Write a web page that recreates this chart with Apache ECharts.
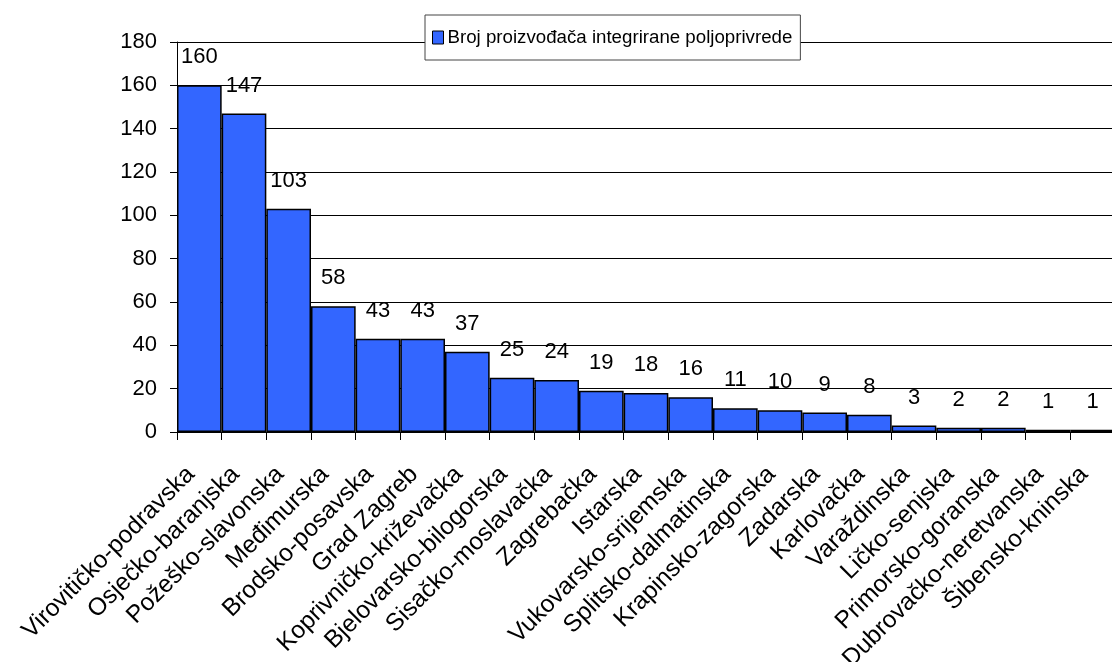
<!DOCTYPE html>
<html lang="hr">
<head>
  <meta charset="UTF-8">
  <title>Broj proizvođača integrirane poljoprivrede</title>
  <script src="https://cdn.jsdelivr.net/npm/echarts@6/dist/echarts.min.js"></script>
  <style>
    html, body { margin: 0; padding: 0; background: #fff; }
    #main { width: 1112px; height: 662px; }
  </style>
</head>
<body>
<div id="main"></div>
<script>
  // podaci
  var zupanije = [
    'Virovitičko-podravska', 'Osječko-baranjska', 'Požeško-slavonska', 'Međimurska',
    'Brodsko-posavska', 'Grad Zagreb', 'Koprivničko-križevačka', 'Bjelovarsko-bilogorska',
    'Sisačko-moslavačka', 'Zagrebačka', 'Istarska', 'Vukovarsko-srijemska',
    'Splitsko-dalmatinska', 'Krapinsko-zagorska', 'Zadarska', 'Karlovačka',
    'Varaždinska', 'Ličko-senjska', 'Primorsko-goranska', 'Dubrovačko-neretvanska',
    'Šibensko-kninska'
  ];
  var brojProizvodaca = [160, 147, 103, 58, 43, 43, 37, 25, 24, 19, 18, 16, 11, 10, 9, 8, 3, 2, 2, 1, 1];
  var nazivSerije = 'Broj proizvođača integrirane poljoprivrede';

  var myChart = echarts.init(document.getElementById('main'));
  var font = 'Liberation Sans, Arial, sans-serif';

  var option = {
    animation: false,
    textStyle: { fontFamily: font, color: '#000' },
    legend: {
      left: 425,
      top: 15,
      padding: [13, 8, 13, 7],
      backgroundColor: '#fff',
      borderColor: '#444',
      borderWidth: 1,
      icon: 'rect',
      itemWidth: 11,
      itemHeight: 13,
      itemGap: 5,
      itemStyle: { borderColor: '#000', borderWidth: 1 },
      textStyle: { fontSize: 18.7, color: '#000', fontFamily: font, padding: [0, 0, 0, -1] },
      data: [nazivSerije]
    },
    grid: {
      left: 177,
      right: -3,
      top: 42,
      bottom: 230,
      containLabel: false,
      outerBoundsMode: 'none'
    },
    xAxis: {
      type: 'category',
      data: zupanije,
      axisLine: { lineStyle: { color: '#000', width: 1 } },
      axisTick: { show: true, length: 8, lineStyle: { color: '#000' } },
      axisLabel: {
        rotate: 45,
        interval: 0,
        margin: 30,
        padding: [0, 12, 0, 0],
        fontSize: 24.5,
        color: '#000',
        fontFamily: font
      }
    },
    yAxis: {
      type: 'value',
      min: 0,
      max: 180,
      interval: 20,
      axisLine: { show: true, lineStyle: { color: '#000', width: 1 } },
      axisTick: { show: true, length: 7, lineStyle: { color: '#000' } },
      axisLabel: { fontSize: 22, color: '#000', margin: 20, fontFamily: font },
      splitLine: { show: true, lineStyle: { color: '#000', width: 1 } }
    },
    series: [
      {
        name: nazivSerije,
        type: 'bar',
        data: brojProizvodaca,
        barCategoryGap: '0%',
        itemStyle: { color: '#3366FF', borderColor: '#000', borderWidth: 1.5 },
        label: {
          show: true,
          position: 'top',
          distance: 17,
          fontSize: 22,
          color: '#000',
          fontFamily: font
        }
      }
    ]
  };

  option && myChart.setOption(option);
</script>
</body>
</html>
